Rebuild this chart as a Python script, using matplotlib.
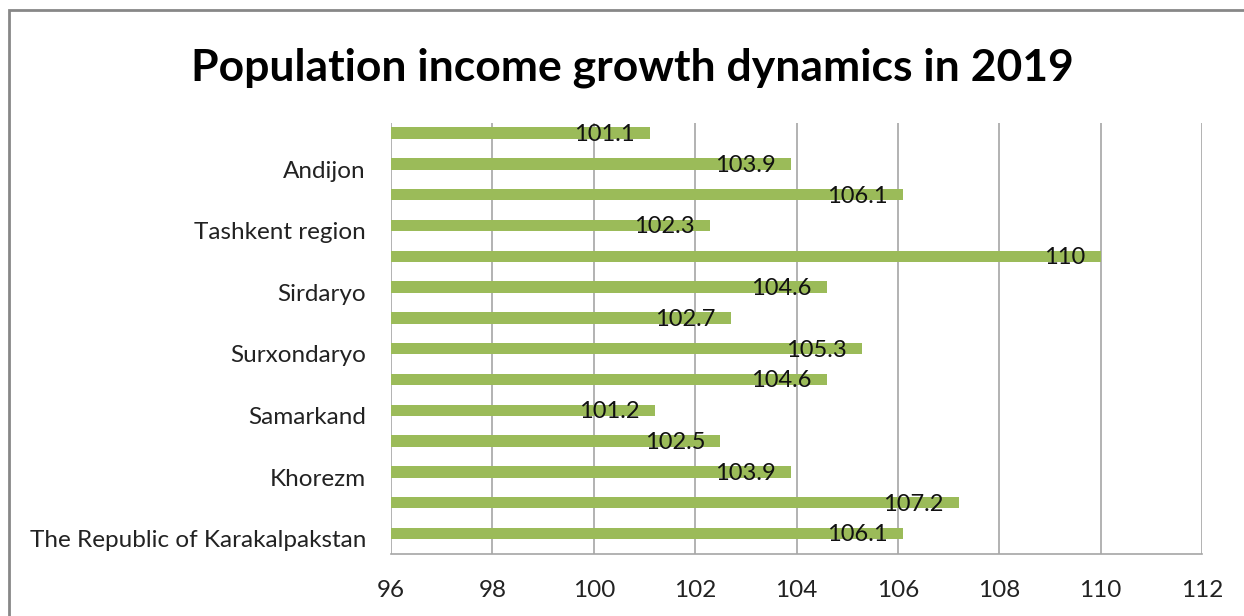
import numpy as np
import matplotlib.pyplot as plt
from matplotlib.patches import Rectangle

plt.rcParams['font.family'] = ['Lato', 'DejaVu Sans']

# bottom to top
regions = ['The Republic of Karakalpakstan', '', 'Khorezm', '', 'Samarkand', '',
           'Surxondaryo', '', 'Sirdaryo', '', 'Tashkent region', '', 'Andijon', '']
growth = [106.1, 107.2, 103.9, 102.5, 101.2, 104.6, 105.3,
          102.7, 104.6, 110, 102.3, 106.1, 103.9, 101.1]
xticks = [96, 98, 100, 102, 104, 106, 108, 110, 112]

fig = plt.figure(figsize=(12.44, 6.16), dpi=100)
ax = fig.add_axes([0.3143, 0.1006, 0.6520, 0.6997])

y = np.arange(len(regions))
# excel draws the bars a little above the category centre
shift = 0.17
ax.barh(y + shift, np.array(growth) - 96, left=96, height=0.37, color='#9BBB59', zorder=2)

for yi, v in zip(y, growth):
    ax.annotate(f'{v:g}', (v, yi + shift), xytext=(-11, -1), textcoords='offset points',
                ha='right', va='center', fontsize=17, color='#111111', zorder=3)

ax.set_xlim(96, 112)
ax.set_ylim(-0.5, len(regions) - 0.5)
ax.set_xticks(xticks)
ax.set_yticks(y)
ax.set_yticklabels(regions)
ax.tick_params(axis='both', length=0, labelsize=17.5, colors='#222222')
ax.tick_params(axis='y', pad=18)
ax.tick_params(axis='x', pad=19)
ax.grid(axis='x', color='#A6A6A6', linewidth=1.2, zorder=1)
for s in ['top', 'left', 'right']:
    ax.spines[s].set_visible(False)
ax.spines['bottom'].set_color('#A6A6A6')
ax.spines['bottom'].set_linewidth(1.2)

fig.text(0.508, 0.89, 'Population income growth dynamics in 2019', ha='center',
         va='center', fontsize=32, fontweight='bold', color='black')

fig.patches.append(Rectangle((0.0075, -0.05), 1.1, 1.034, transform=fig.transFigure,
                             fill=False, edgecolor='#878787', linewidth=2))

fig.savefig('out.png', dpi=100)
